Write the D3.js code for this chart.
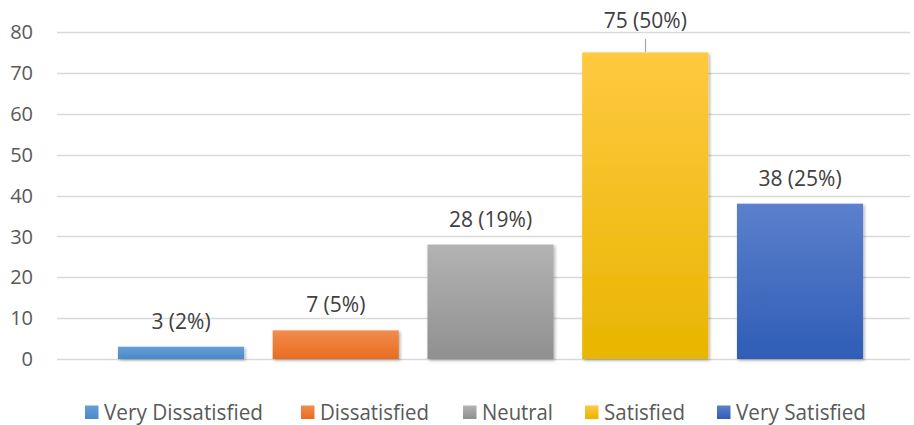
<!DOCTYPE html>
<html>
<head>
<meta charset="utf-8">
<script src="https://cdn.jsdelivr.net/npm/d3@7"></script>
<style>
  body { margin: 0; background: #fff; }
  svg { font-family: "Open Sans", sans-serif; }
</style>
</head>
<body>
<div class="chart"></div>
<script>
const categories = ["Very Dissatisfied", "Dissatisfied", "Neutral", "Satisfied", "Very Satisfied"];
const counts = [3, 7, 28, 75, 38];
const percents = ["2%", "5%", "19%", "50%", "25%"];
const yTicks = [0, 10, 20, 30, 40, 50, 60, 70, 80];
const colorTop = ["#649fd8", "#f28c4e", "#b3b3b3", "#ffc940", "#5b80cc"];
const colorBottom = ["#4a89c8", "#e96c1f", "#909090", "#e8b500", "#2f5db6"];

const width = 914, height = 425;
const svg = d3.select(".chart").append("svg")
    .attr("width", width)
    .attr("height", height);

const defs = svg.append("defs");
categories.forEach((c, i) => {
    const g = defs.append("linearGradient")
        .attr("id", "grad" + i)
        .attr("x1", 0).attr("y1", 0).attr("x2", 0).attr("y2", 1);
    g.append("stop").attr("offset", "0%").attr("stop-color", colorTop[i]);
    g.append("stop").attr("offset", "100%").attr("stop-color", colorBottom[i]);
});
const shadow = defs.append("filter").attr("id", "shadow")
    .attr("x", "-10%").attr("y", "-10%").attr("width", "130%").attr("height", "130%");
shadow.append("feDropShadow")
    .attr("dx", 1.5).attr("dy", 1.5).attr("stdDeviation", 1.5)
    .attr("flood-color", "#000").attr("flood-opacity", 0.3);

const y = d3.scaleLinear().domain([0, 80]).range([359, 32]);
const x = d3.scaleBand().domain(categories).range([104, 877]).paddingInner(0.185).paddingOuter(0.09);

// gridlines
svg.append("g").selectAll("line")
    .data(yTicks)
    .enter().append("line")
    .attr("x1", 57).attr("x2", 910)
    .attr("y1", d => Math.round(y(d)) + 0.5).attr("y2", d => Math.round(y(d)) + 0.5)
    .attr("stroke", "#d9d9d9")
    .attr("stroke-width", 1.3);

// y labels
svg.append("g").selectAll("text")
    .data(yTicks)
    .enter().append("text")
    .attr("x", 33)
    .attr("y", d => y(d))
    .attr("dy", "0.36em")
    .attr("text-anchor", "end")
    .attr("fill", "#595959")
    .style("font-size", "20px")
    .text(d => d);

// bars
svg.append("g").selectAll("rect")
    .data(counts)
    .enter().append("rect")
    .attr("x", (d, i) => x(categories[i]))
    .attr("width", x.bandwidth())
    .attr("y", d => y(d))
    .attr("height", d => y(0) - y(d))
    .attr("fill", (d, i) => `url(#grad${i})`)
    .attr("filter", "url(#shadow)");

// value labels (pushed above the plot when there is no room)
const pushed = d => y(d) - 18 < 40;
const labelY = d => pushed(d) ? 28 : y(d) - 18;
const cx = i => x(categories[i]) + x.bandwidth() / 2;
svg.append("g").selectAll("text")
    .data(counts)
    .enter().append("text")
    .attr("x", (d, i) => cx(i))
    .attr("y", d => labelY(d))
    .attr("text-anchor", "middle")
    .attr("fill", "#404040")
    .style("font-size", "21px")
    .text((d, i) => `${d} (${percents[i]})`);

svg.append("g").selectAll("line")
    .data(counts.map((d, i) => ({ d, i })).filter(o => pushed(o.d)))
    .enter().append("line")
    .attr("x1", o => Math.round(cx(o.i)) + 0.5)
    .attr("x2", o => Math.round(cx(o.i)) + 0.5)
    .attr("y1", 39)
    .attr("y2", o => y(o.d) - 0.5)
    .attr("stroke", "#a6a6a6")
    .attr("stroke-width", 1.2);

// legend
const legend = svg.append("g").attr("class", "legend");
const legendX = [85, 301, 463, 585, 717];
const legendTextW = [159, 109, 71, 81, 130];
const items = legend.selectAll("g")
    .data(categories)
    .enter().append("g")
    .attr("transform", (d, i) => `translate(${legendX[i]}, 412)`);
items.append("rect")
    .attr("x", 0).attr("y", -6.5)
    .attr("width", 13.5).attr("height", 13.5)
    .attr("fill", (d, i) => `url(#grad${i})`);
items.append("text")
    .attr("x", 19)
    .attr("dy", "0.36em")
    .attr("fill", "#595959")
    .style("font-size", "21px")
    .attr("textLength", (d, i) => legendTextW[i])
    .attr("lengthAdjust", "spacingAndGlyphs")
    .text(d => d);
</script>
</body>
</html>
